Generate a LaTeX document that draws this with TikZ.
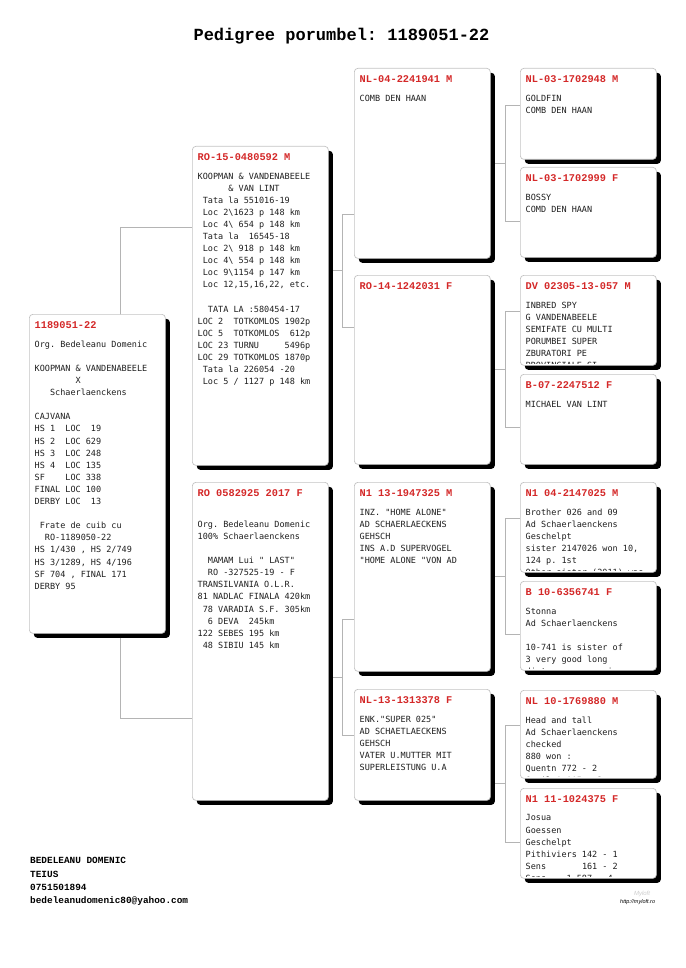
\documentclass[tikz,border=0pt]{standalone}
\usepackage{fontspec}
\usepackage{tikz}
\usetikzlibrary{calc,shadows,backgrounds}
\newfontfamily\idfont{Liberation Mono}
\newfontfamily\bodyfont{DejaVu Sans Mono}
\newfontfamily\markfont{Liberation Sans}
\definecolor{idred}{HTML}{D42828}
\definecolor{linkgray}{HTML}{B4B4B4}
\definecolor{cardline}{HTML}{C4C4C4}
\frenchspacing

\begin{document}
\begin{tikzpicture}[
  x=1pt, y=-1pt,
  every node/.style={inner sep=0pt},
  card/.style={draw=cardline, line width=0.7pt, fill=white, rounded corners=3.5pt, anchor=north west, minimum width=136pt,
    general shadow={fill=black, shadow xshift=4.5pt, shadow yshift=-4.5pt}},
  idtext/.style={anchor=west, text=idred, font=\idfont\bfseries\fontsize{10.3}{12}\selectfont},
  bodytext/.style={anchor=north west, align=left, text=black!88, font=\bodyfont\fontsize{8.5}{12.1}\selectfont},
  link/.style={draw=linkgray, line width=0.7pt},
]
\useasboundingbox (0,0) rectangle (685,968);

\node[anchor=base, font=\idfont\bfseries\fontsize{17}{20}\selectfont] (title) at (341.5,41) {Pedigree porumbel: 1189051-22};

% generation 0 and 1
\node[card, minimum height=319pt] (g0) at (29,314) {};
\node[card, minimum height=319pt] (g1a) at (192,146) {};
\node[card, minimum height=318pt] (g1b) at (192,482) {};

% generation 2
\node[card, minimum height=190pt] (g2a) at (354,68) {};
\node[card, minimum height=189pt] (g2b) at (354,275) {};
\node[card, minimum height=189pt] (g2c) at (354,482) {};
\node[card, minimum height=111pt] (g2d) at (354,689) {};

% generation 3
\node[card, minimum height=91pt] (g3a) at (520,68) {};
\node[card, minimum height=90pt] (g3b) at (520,167) {};
\node[card, minimum height=90pt] (g3c) at (520,275) {};
\node[card, minimum height=90pt] (g3d) at (520,374) {};
\node[card, minimum height=90pt] (g3e) at (520,482) {};
\node[card, minimum height=89pt] (g3f) at (520,581) {};
\node[card, minimum height=88pt] (g3g) at (520,690) {};
\node[card, minimum height=90pt] (g3h) at (520,788) {};

% ring numbers
\node[idtext] (g0id) at ($(g0.north west)+(5.5,11)$) {1189051-22};
\node[idtext] (g1aid) at ($(g1a.north west)+(5.5,11)$) {RO-15-0480592 M};
\node[idtext] (g1bid) at ($(g1b.north west)+(5.5,11)$) {RO 0582925 2017 F};
\node[idtext] (g2aid) at ($(g2a.north west)+(5.5,11)$) {NL-04-2241941 M};
\node[idtext] (g2bid) at ($(g2b.north west)+(5.5,11)$) {RO-14-1242031 F};
\node[idtext] (g2cid) at ($(g2c.north west)+(5.5,11)$) {N1 13-1947325 M};
\node[idtext] (g2did) at ($(g2d.north west)+(5.5,11)$) {NL-13-1313378 F};
\node[idtext] (g3aid) at ($(g3a.north west)+(5.5,11)$) {NL-03-1702948 M};
\node[idtext] (g3bid) at ($(g3b.north west)+(5.5,11)$) {NL-03-1702999 F};
\node[idtext] (g3cid) at ($(g3c.north west)+(5.5,11)$) {DV 02305-13-057 M};
\node[idtext] (g3did) at ($(g3d.north west)+(5.5,11)$) {B-07-2247512 F};
\node[idtext] (g3eid) at ($(g3e.north west)+(5.5,11)$) {N1 04-2147025 M};
\node[idtext] (g3fid) at ($(g3f.north west)+(5.5,11)$) {B 10-6356741 F};
\node[idtext] (g3gid) at ($(g3g.north west)+(5.5,11)$) {NL 10-1769880 M};
\node[idtext] (g3hid) at ($(g3h.north west)+(5.5,11)$) {N1 11-1024375 F};

% notes
\node[bodytext] (g0tx) at ($(g0.north west)+(5.5,26.5)$) {Org. Bedeleanu Domenic\\[12.1pt]
KOOPMAN \& VANDENABEELE\\
\mbox{}~~~~~~~~X\\
\mbox{}~~~Schaerlaenckens\\[12.1pt]
CAJVANA\\
HS 1~~LOC~~19\\
HS 2~~LOC 629\\
HS 3~~LOC 248\\
HS 4~~LOC 135\\
SF~~~~LOC 338\\
FINAL LOC 100\\
DERBY LOC~~13\\[12.1pt]
\mbox{}~Frate de cuib cu\\
\mbox{}~~RO-1189050-22\\
HS 1/430 , HS 2/749\\
HS 3/1289, HS 4/196\\
SF 704 , FINAL 171\\
DERBY 95};

\node[bodytext] (g1atx) at ($(g1a.north west)+(5.5,26.5)$) {KOOPMAN \& VANDENABEELE\\
\mbox{}~~~~~~\& VAN LINT\\
\mbox{}~Tata la 551016-19\\
\mbox{}~Loc 2\textbackslash 1623 p 148 km\\
\mbox{}~Loc 4\textbackslash{} 654 p 148 km\\
\mbox{}~Tata la~~16545-18\\
\mbox{}~Loc 2\textbackslash{} 918 p 148 km\\
\mbox{}~Loc 4\textbackslash{} 554 p 148 km\\
\mbox{}~Loc 9\textbackslash 1154 p 147 km\\
\mbox{}~Loc 12,15,16,22, etc.\\[12.1pt]
\mbox{}~~TATA LA :580454-17\\
LOC 2~~TOTKOMLOS 1902p\\
LOC 5~~TOTKOMLOS~~612p\\
LOC 23 TURNU~~~~~5496p\\
LOC 29 TOTKOMLOS 1870p\\
\mbox{}~Tata la 226054 -20\\
\mbox{}~Loc 5 / 1127 p 148 km};

\node[bodytext] (g1btx) at ($(g1b.north west)+(5.5,38.6)$) {Org. Bedeleanu Domenic\\
100\% Schaerlaenckens\\[12.1pt]
\mbox{}~~MAMAM Lui " LAST"\\
\mbox{}~~RO -327525-19 - F\\
TRANSILVANIA O.L.R.\\
81 NADLAC FINALA 420km\\
\mbox{}~78 VARADIA S.F. 305km\\
\mbox{}~~6 DEVA~~245km\\
122 SEBES 195 km\\
\mbox{}~48 SIBIU 145 km};

\node[bodytext] (g2atx) at ($(g2a.north west)+(5.5,26.5)$) {COMB DEN HAAN};
\node[bodytext] (g2ctx) at ($(g2c.north west)+(5.5,26.5)$) {INZ. "HOME ALONE"\\
AD SCHAERLAECKENS\\
GEHSCH\\
INS A.D SUPERVOGEL\\
"HOME ALONE "VON AD};
\node[bodytext] (g2dtx) at ($(g2d.north west)+(5.5,26.5)$) {ENK."SUPER 025"\\
AD SCHAETLAECKENS\\
GEHSCH\\
VATER U.MUTTER MIT\\
SUPERLEISTUNG U.A};

\node[bodytext] (g3atx) at ($(g3a.north west)+(5.5,26.5)$) {GOLDFIN\\ COMB DEN HAAN};
\node[bodytext] (g3btx) at ($(g3b.north west)+(5.5,26.5)$) {BOSSY\\ COMD DEN HAAN};
\node[bodytext] (g3dtx) at ($(g3d.north west)+(5.5,26.5)$) {MICHAEL VAN LINT};

% notes cut off at the card edge
\begin{scope}
\clip ($(g3c.north west)$) rectangle ($(g3c.south east)+(0,-2)$);
\node[bodytext] (g3ctx) at ($(g3c.north west)+(5.5,26.5)$) {INBRED SPY\\
G VANDENABEELE\\
SEMIFATE CU MULTI\\
PORUMBEI SUPER\\
ZBURATORI PE\\
PROVINCIALE SI};
\end{scope}
\begin{scope}
\clip ($(g3e.north west)$) rectangle ($(g3e.south east)+(0,-2)$);
\node[bodytext] (g3etx) at ($(g3e.north west)+(5.5,26.5)$) {Brother 026 and 09\\
Ad Schaerlaenckens\\
Geschelpt\\
sister 2147026 won 10,\\
124 p. 1st\\
Other sister (2011) was};
\end{scope}
\begin{scope}
\clip ($(g3f.north west)$) rectangle ($(g3f.south east)+(0,-2)$);
\node[bodytext] (g3ftx) at ($(g3f.north west)+(5.5,26.5)$) {Stonna\\
Ad Schaerlaenckens\\[12.1pt]
10-741 is sister of\\
3 very good long\\
distance racers in};
\end{scope}
\begin{scope}
\clip ($(g3g.north west)$) rectangle ($(g3g.south east)+(0,-2)$);
\node[bodytext] (g3gtx) at ($(g3g.north west)+(5.5,26.5)$) {Head and tall\\
Ad Schaerlaenckens\\
checked\\
880 won :\\
Quentn 772 - 2\\
Gueil 1 115 - 3};
\end{scope}
\begin{scope}
\clip ($(g3h.north west)$) rectangle ($(g3h.south east)+(0,-2)$);
\node[bodytext] (g3htx) at ($(g3h.north west)+(5.5,26.5)$) {Josua\\
Goessen\\
Geschelpt\\
Pithiviers 142 - 1\\
Sens~~~~~~~161 - 2\\
Sens~~~~1 587 - 4};
\end{scope}

% junctions
\coordinate (k0a) at (120,227);
\coordinate (k0b) at (120,718);
\coordinate (j1a) at (342,270);
\coordinate (k1a) at (342,214);
\coordinate (k1b) at (342,327);
\coordinate (j1b) at (342,677);
\coordinate (k1c) at (342,619);
\coordinate (k1d) at (342,735);
\coordinate (j2a) at (505,163);
\coordinate (k2a) at (505,105);
\coordinate (k2b) at (505,221);
\coordinate (j2b) at (505,369);
\coordinate (k2c) at (505,311);
\coordinate (k2d) at (505,427);
\coordinate (j2c) at (505,576);
\coordinate (k2e) at (505,518);
\coordinate (k2f) at (505,634);
\coordinate (j2d) at (505,783);
\coordinate (k2g) at (505,725);
\coordinate (k2h) at (505,842);

\begin{scope}[on background layer]
\draw[link] (g1a.west |- k0a) -- (k0a) -- (k0b) -- (g1b.west |- k0b);
\draw[link] (g1a.east |- j1a) -- (j1a);
\draw[link] (g2a.west |- k1a) -- (k1a) -- (k1b) -- (g2b.west |- k1b);
\draw[link] (g1b.east |- j1b) -- (j1b);
\draw[link] (g2c.west |- k1c) -- (k1c) -- (k1d) -- (g2d.west |- k1d);
\draw[link] (g2a.east |- j2a) -- (j2a);
\draw[link] (g3a.west |- k2a) -- (k2a) -- (k2b) -- (g3b.west |- k2b);
\draw[link] (g2b.east |- j2b) -- (j2b);
\draw[link] (g3c.west |- k2c) -- (k2c) -- (k2d) -- (g3d.west |- k2d);
\draw[link] (g2c.east |- j2c) -- (j2c);
\draw[link] (g3e.west |- k2e) -- (k2e) -- (k2f) -- (g3f.west |- k2f);
\draw[link] (g2d.east |- j2d) -- (j2d);
\draw[link] (g3g.west |- k2g) -- (k2g) -- (k2h) -- (g3h.west |- k2h);
\end{scope}

% owner
\node[anchor=north west, align=left, font=\idfont\bfseries\fontsize{9.4}{13.3}\selectfont] (owner) at (30,857.5) {BEDELEANU DOMENIC\\
TEIUS\\
0751501894\\
bedeleanudomenic80@yahoo.com};

\node[text=gray!40, font=\markfont\itshape\fontsize{6}{7}\selectfont] (logo) at (642,894) {Myloft};
\node[anchor=west, font=\markfont\itshape\fontsize{5.5}{6}\selectfont] (site) at (620,902) {http://myloft.ro};

\end{tikzpicture}
\end{document}
